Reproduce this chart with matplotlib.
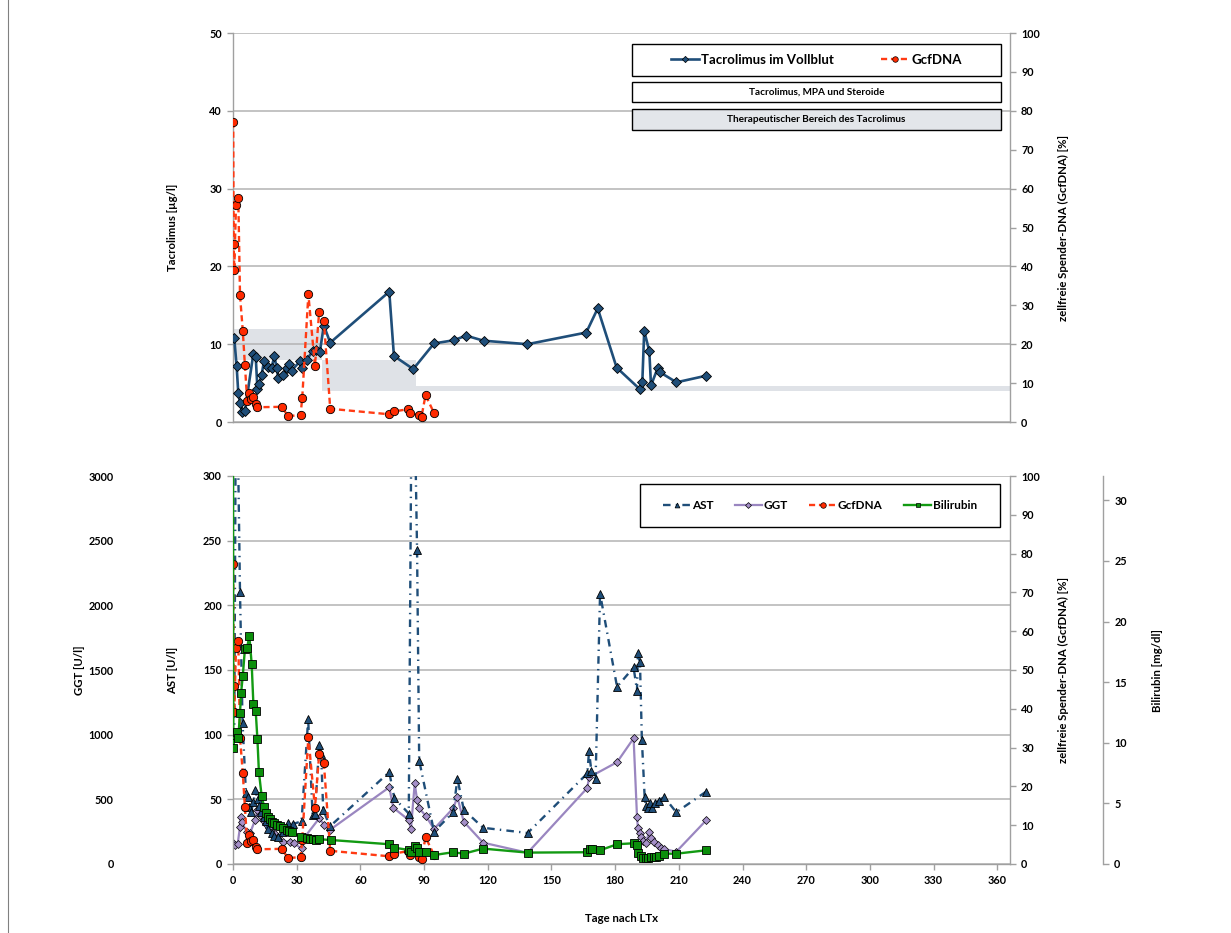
import matplotlib
matplotlib.use("Agg")
import matplotlib.pyplot as plt
from matplotlib.patches import Rectangle
from matplotlib.lines import Line2D

plt.rcParams["font.family"] = ["Lato", "DejaVu Sans"]
plt.rcParams["font.weight"] = "bold"
plt.rcParams["axes.labelweight"] = "bold"

# ---------------- data ----------------
# Tacrolimus whole-blood trough level [µg/l]
tac_days = [0.6, 1.7, 2.5, 3.3, 4.4, 5.6, 9.6, 10.7, 11.5, 12.4, 13.5, 14.6, 16.3, 18.2,
            19.5, 20.5, 21.3, 23.7, 25.5, 26.5, 27.6, 31.5, 32.6, 34.7, 37.5, 39.0, 40.9,
            42.8, 45.8, 73.6, 75.8, 84.9, 94.7, 103.9, 109.8, 118.0, 138.7, 166.4, 171.8,
            180.7, 191.7, 192.8, 193.7, 196.1, 196.9, 200.0, 201.1, 208.9, 222.9]
tac_vals = [10.75, 7.2, 3.7, 2.5, 1.3, 1.4, 8.8, 8.4, 4.3, 4.9, 6.1, 7.8, 7.1, 7.0,
            8.5, 7.0, 5.7, 6.0, 7.0, 7.5, 6.6, 7.8, 7.0, 8.0, 9.1, 9.3, 9.0,
            12.4, 10.2, 16.75, 8.5, 6.8, 10.1, 10.5, 11.1, 10.45, 10.0, 11.5, 14.6,
            7.0, 4.2, 5.1, 11.7, 9.1, 4.7, 6.9, 6.4, 5.1, 5.95]

# graft-derived cell-free DNA [%]
gcf_days = [0.1, 0.3, 0.6, 1.4, 2.5, 3.3, 4.6, 5.6, 6.7, 7.5, 8.5, 9.6, 10.7, 11.5,
            22.9, 26.0, 31.8, 32.6, 35.5, 38.6, 40.6, 42.8, 45.8, 73.3, 75.8, 82.5,
            83.6, 87.7, 88.8, 90.7, 94.8]
gcf_vals = [77.2, 45.8, 39.1, 55.7, 57.5, 32.6, 23.5, 14.7, 5.4, 7.4, 6.0, 6.3, 4.5, 3.8,
            3.9, 1.5, 1.8, 6.1, 32.8, 14.4, 28.4, 26.0, 3.4, 2.0, 2.7, 3.3,
            2.2, 1.8, 1.4, 6.9, 2.2]

# therapeutic range of tacrolimus: start day, end day, lower, upper [µg/l]
band_start = [0, 42, 86]
band_end = [42, 86, 366]
band_low = [8, 4, 4]
band_high = [12, 8, 4.6]

# AST [U/l]
ast_days = [0.15, 0.6, 1.5, 3.3, 4.5, 6.1, 6.9, 7.7, 8.5, 9.6, 10.5, 11.6, 12.4, 13.2,
            14.7, 15.5, 16.3, 18.2, 19.5, 21.3, 23.7, 26.0, 28.4, 32.3, 35.4, 37.5,
            38.6, 40.6, 41.5, 42.5, 45.6, 73.6, 76.0, 82.8, 84.5, 86.7, 87.7, 94.7,
            103.7, 105.7, 108.7, 117.8, 138.8, 166.9, 167.7, 168.8, 170.8, 172.9, 180.9,
            188.7, 190.3, 190.7, 191.7, 192.6, 193.9, 194.5, 195.5, 196.5, 197.5, 199.0,
            200.5, 203.0, 208.8, 222.9]
ast_vals = [98, 100, 420, 210, 109, 55, 52, 44, 40, 48, 57, 50, 45, 40,
            36, 33, 27, 24, 22, 21, 25, 32, 31, 33, 112, 38,
            39, 92, 85, 42, 29, 71, 51, 39, 460, 243, 80, 25,
            40, 66, 42, 28, 24, 70, 87, 72, 66, 209, 137,
            152, 134, 163, 156, 96, 52, 45, 43, 47, 43, 47,
            49, 52, 40, 56]

# GGT [U/l]
ggt_days = [0.0, 1.1, 2.2, 3.3, 3.6, 4.1, 6.4, 8.0, 10.4, 11.5, 12.7, 14.0, 15.5, 17.0,
            18.5, 20.0, 21.3, 23.7, 26.8, 28.5, 32.3, 33.9, 40.6, 43.0, 45.6, 73.6, 75.5,
            82.8, 83.8, 85.6, 86.7, 87.7, 90.7, 94.7, 103.7, 105.7, 108.7, 117.8, 138.8,
            166.9, 167.7, 180.9, 188.7, 190.3, 190.7, 191.5, 192.3, 193.3, 194.4, 196.0,
            197.0, 198.5, 200.0, 201.5, 203.0, 208.8, 222.9]
ggt_vals = [160, 147, 155, 288, 366, 327, 250, 237, 340, 418, 379, 340, 310, 280,
            250, 230, 211, 173, 173, 160, 121, 211, 353, 302, 263, 593, 435,
            340, 268, 624, 495, 431, 374, 271, 431, 516, 327, 165, 87,
            588, 670, 787, 972, 366, 281, 240, 210, 180, 160, 250,
            200, 170, 150, 125, 116, 95, 338]

# Bilirubin [mg/dl]
bili_days = [0.0, 0.15, 0.6, 1.7, 2.5, 3.3, 3.8, 4.6, 5.6, 6.6, 7.7, 8.8, 9.6, 10.7, 11.5,
             12.2, 13.5, 14.7, 15.5, 16.3, 17.4, 18.2, 19.5, 20.5, 22.1, 23.7, 25.3,
             26.4, 27.6, 32.0, 34.7, 36.2, 37.8, 39.0, 40.6, 46.0, 73.6, 75.8, 82.8,
             83.8, 85.6, 86.7, 87.7, 90.7, 94.7, 103.7, 108.7, 117.8, 138.8, 166.9,
             168.0, 169.1, 172.9, 180.9, 188.7, 190.3, 190.7, 192.0, 193.2, 194.4,
             195.5, 196.8, 198.2, 199.4, 200.5, 203.0, 208.8, 222.9]
bili_vals = [35.0, 9.56, 10.6, 10.9, 10.4, 12.45, 14.1, 15.5, 17.7, 17.8, 18.8, 16.5, 13.2,
             12.6, 10.3, 7.6, 5.6, 4.7, 4.2, 3.9, 3.7, 3.5, 3.4, 3.2, 3.1, 2.95, 2.8,
             2.7, 2.6, 2.26, 2.15, 2.04, 2.04, 2.0, 2.04, 1.98, 1.63, 1.35, 1.16,
             1.0, 1.5, 1.35, 0.97, 0.97, 0.74, 0.97, 0.85, 1.27, 0.94, 0.97,
             1.24, 1.27, 1.13, 1.63, 1.71, 1.55, 0.94, 0.66, 0.5, 0.47,
             0.5, 0.55, 0.55, 0.6, 0.69, 0.85, 0.85, 1.13]

x_ticks = list(range(0, 361, 30))

# ---------------- style ----------------
W, H = 1231, 933
TAC_C = "#1f4e79"
GCF_LINE = "#ff3b14"
GCF_FACE = "#ff2a00"
GGT_LINE = "#9a86c0"
GGT_FACE = "#a58fc8"
BILI_LINE = "#129a12"
BILI_FACE = "#0b8f0b"
GRID = "#b3b3b3"
SPINE = "#a0a0a0"
SHADE = "#dfe2e7"
TICK_FS = 7.8
LABEL_FS = 8.2

gcf_dash = (0, (2.6, 1.6))
ast_dash = (0, (3.2, 2.2, 0.6, 2.2))


def box(l, t, r, b):
    return [l / W, 1 - b / H, (r - l) / W, (b - t) / H]


def style_axis(ax, sides):
    for s in ["left", "right", "top", "bottom"]:
        ax.spines[s].set_visible(s in sides)
        ax.spines[s].set_color(SPINE)
        ax.spines[s].set_linewidth(1.0)
    ax.tick_params(axis="both", colors=SPINE, labelcolor="black", labelsize=TICK_FS,
                   length=4, width=1.0, pad=4)


fig = plt.figure(figsize=(W / 100, H / 100), dpi=100)
fig.add_artist(Line2D([8 / W, 8 / W], [0, 1], color="#808080", lw=0.8))

# ---------------- upper panel ----------------
ax1 = fig.add_axes(box(233, 33, 1010, 422))
ax1.set_xlim(0, 366)
ax1.set_ylim(0, 50)
ax1.set_yticks(range(0, 51, 10))
ax1.set_xticks([])
ax1.yaxis.grid(True, color=GRID, lw=1.1)
ax1.set_axisbelow(True)
style_axis(ax1, ["left", "bottom"])
for s, e, lo, hi in zip(band_start, band_end, band_low, band_high):
    ax1.fill_between([s, e], lo, hi, color=SHADE, lw=0, zorder=0.5)
ax1.plot(tac_days, tac_vals, color=TAC_C, lw=1.9, marker="D", ms=5.2,
         mfc=TAC_C, mec="black", mew=0.6, zorder=3)
ax1.set_ylabel("Tacrolimus [µg/l]", fontsize=LABEL_FS, fontweight="bold")
ax1.yaxis.set_label_coords((178 - 233) / 777, 0.5)

ax1r = ax1.twinx()
ax1r.set_ylim(0, 100)
ax1r.set_yticks(range(0, 101, 10))
style_axis(ax1r, ["right"])
ax1r.plot(gcf_days, gcf_vals, color=GCF_LINE, lw=1.7, ls=gcf_dash, marker="o", ms=6,
          mfc=GCF_FACE, mec="black", mew=0.6, zorder=3)
ax1r.set_ylabel("zellfreie Spender-DNA (GcfDNA) [%]", fontsize=LABEL_FS, fontweight="bold")
ax1r.yaxis.set_label_coords((1058 - 233) / 777, 0.5)

# ---------------- lower panel ----------------
ax2 = fig.add_axes(box(233, 476, 1010, 864))
axg = ax2.twinx()   # GGT, outer left axis
axr = ax2.twinx()   # GcfDNA
axb = ax2.twinx()   # Bilirubin, outer right axis
axg.set_zorder(1)
ax2.set_zorder(2)
axr.set_zorder(3)
axb.set_zorder(4)
axg.patch.set_visible(True)
axg.patch.set_facecolor("white")
ax2.patch.set_visible(False)

ax2.set_xlim(0, 366)
ax2.set_xticks(x_ticks)
ax2.set_ylim(0, 300)
ax2.set_yticks(range(0, 301, 50))
style_axis(ax2, ["left", "bottom"])
ax2.set_ylabel("AST [U/l]", fontsize=LABEL_FS, fontweight="bold")
ax2.yaxis.set_label_coords((178 - 233) / 777, 0.5)
ax2.set_xlabel("Tage nach LTx", fontsize=LABEL_FS, fontweight="bold")
ax2.xaxis.set_label_coords(0.5, (864 - 913) / 388)

axg.set_ylim(0, 3000)
axg.set_yticks(range(0, 3001, 500))
axg.yaxis.set_ticks_position("left")
axg.yaxis.set_label_position("left")
style_axis(axg, ["left"])
axg.spines["left"].set_position(("outward", 76))
axg.spines["left"].set_visible(False)
axg.tick_params(axis="y", length=0, pad=10)
axg.yaxis.grid(True, color=GRID, lw=1.1)
axg.set_ylabel("GGT [U/l]", fontsize=LABEL_FS, fontweight="bold")
axg.yaxis.set_label_coords((85 - 233) / 777, 0.5)
axg.plot(ggt_days, ggt_vals, color=GGT_LINE, lw=1.6, marker="D", ms=4.2,
         mfc=GGT_FACE, mec="black", mew=0.5, zorder=3)

ax2.plot(ast_days, ast_vals, color=TAC_C, lw=1.7, ls=ast_dash, marker="^", ms=5.5,
         mfc=TAC_C, mec="black", mew=0.6, zorder=3)

axr.set_ylim(0, 100)
axr.set_yticks(range(0, 101, 10))
style_axis(axr, ["right"])
axr.set_ylabel("zellfreie Spender-DNA (GcfDNA) [%]", fontsize=LABEL_FS, fontweight="bold")
axr.yaxis.set_label_coords((1058 - 233) / 777, 0.5)
axr.plot(gcf_days, gcf_vals, color=GCF_LINE, lw=1.7, ls=gcf_dash, marker="o", ms=6,
         mfc=GCF_FACE, mec="black", mew=0.6, zorder=3)

axb.set_ylim(0, 32)
axb.set_yticks(range(0, 31, 5))
style_axis(axb, ["right"])
axb.spines["right"].set_position(("outward", 67))
axb.set_ylabel("Bilirubin [mg/dl]", fontsize=LABEL_FS, fontweight="bold")
axb.yaxis.set_label_coords((1152 - 233) / 777, 0.5)
axb.plot(bili_days, bili_vals, color=BILI_LINE, lw=1.7, marker="s", ms=5.5,
         mfc=BILI_FACE, mec="black", mew=0.6, zorder=3)

# ---------------- legends and info boxes ----------------
def frame(l, t, r, b, face="white"):
    rect = Rectangle((l / W, 1 - b / H), (r - l) / W, (b - t) / H, transform=fig.transFigure,
                     facecolor=face, edgecolor="black", lw=1.0, zorder=10)
    fig.add_artist(rect)


frame(632, 44, 1001, 76)
frame(632, 82, 1001, 102)
frame(632, 109, 1001, 130, face="#e3e6ea")
fig.text((632 + 1001) / 2 / W, 1 - 92 / H, "Tacrolimus, MPA und Steroide", ha="center",
         va="center", fontsize=7.2, fontweight="bold", zorder=11)
fig.text((632 + 1001) / 2 / W, 1 - 120 / H, "Therapeutischer Bereich des Tacrolimus",
         ha="center", va="center", fontsize=7.2, fontweight="bold", zorder=11)

h_tac = Line2D([], [], color=TAC_C, lw=1.9, marker="D", ms=3.2, mfc=TAC_C, mec="black", mew=0.5)
h_gcf = Line2D([], [], color=GCF_LINE, lw=1.7, ls=gcf_dash, marker="o", ms=4,
               mfc=GCF_FACE, mec="black", mew=0.5)
leg1 = fig.legend([h_tac, h_gcf], ["Tacrolimus im Vollblut", "GcfDNA"], loc="center",
                  bbox_to_anchor=((632 + 1001) / 2 / W, 1 - 60 / H), ncol=2, frameon=False,
                  prop={"size": 9.5, "weight": "bold"}, handlelength=2.1, handletextpad=0.15,
                  columnspacing=3.6)
leg1.set_zorder(12)

frame(640, 484, 1000, 527)
h_ast = Line2D([], [], color=TAC_C, lw=1.7, ls=ast_dash, marker="^", ms=3.5, mfc=TAC_C,
               mec="black", mew=0.5)
h_ggt = Line2D([], [], color=GGT_LINE, lw=1.6, marker="D", ms=3, mfc=GGT_FACE, mec="black", mew=0.5)
h_gcf2 = Line2D([], [], color=GCF_LINE, lw=1.7, ls=gcf_dash, marker="o", ms=4, mfc=GCF_FACE,
                mec="black", mew=0.5)
h_bili = Line2D([], [], color=BILI_LINE, lw=1.7, marker="s", ms=3.5, mfc=BILI_FACE,
                mec="black", mew=0.5)
leg2 = fig.legend([h_ast, h_ggt, h_gcf2, h_bili], ["AST", "GGT", "GcfDNA", "Bilirubin"],
                  loc="center", bbox_to_anchor=((640 + 1000) / 2 / W, 1 - 506 / H), ncol=4,
                  frameon=False, prop={"size": 8.5, "weight": "bold"}, handlelength=2.3,
                  handletextpad=0.15, columnspacing=1.8)
leg2.set_zorder(12)

fig.savefig("out.png", dpi=100)
